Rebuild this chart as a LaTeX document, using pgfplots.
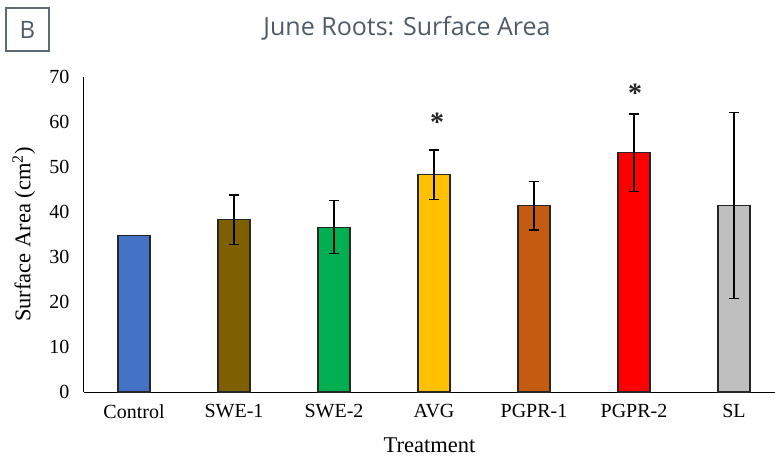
\documentclass[border=0pt]{standalone}
\usepackage{fontspec}
\setmainfont{Liberation Serif}
\newfontfamily\titlefont{Open Sans}
\usepackage{pgfplots}
\pgfplotsset{compat=1.18}
\definecolor{cControl}{HTML}{4472C4}
\definecolor{cSWEa}{HTML}{7F6000}
\definecolor{cSWEb}{HTML}{00B050}
\definecolor{cAVG}{HTML}{FFC000}
\definecolor{cPGPRa}{HTML}{C55A11}
\definecolor{cPGPRb}{HTML}{FF0000}
\definecolor{cSL}{HTML}{BFBFBF}
\definecolor{titlegray}{HTML}{4F5B66}
\definecolor{boxgray}{HTML}{5F6B73}
\definecolor{edge}{HTML}{262626}
\begin{document}
\begin{tikzpicture}
\path[use as bounding box] (-84bp,-65bp) rectangle (691bp,392bp);
\begin{axis}[
  at={(0,0)}, anchor=south west,
  scale only axis,
  width=691bp, height=315bp,
  xmin=-0.5, xmax=6.41,
  ymin=0, ymax=70,
  ytick={0,10,...,70},
  xtick={0,1,2,3,4,5,6},
  xticklabels={Control,SWE-1,SWE-2,AVG,PGPR-1,PGPR-2,SL},
  axis lines=left,
  axis line style={-, black, line width=1bp},
  major tick length=0pt,
  /pgf/number format/assume math mode=true,
  ticklabel style={font=\fontsize{20bp}{24bp}\selectfont},
  yticklabel style={xshift=-11bp},
  xticklabel style={yshift=-9bp},
  xlabel={Treatment},
  ylabel={Surface Area (cm\textsuperscript{2})},
  label style={font=\fontsize{22.5bp}{26bp}\selectfont},
  xlabel style={at={(axis description cs:0.5,-0.146)}, anchor=north, inner sep=0pt},
  ylabel style={at={(axis description cs:-0.087,0.5)}, anchor=center, inner sep=0pt},
  ybar, bar width=32bp, bar shift=0pt,
  clip=false,
  every axis plot/.append style={draw=edge, line width=1.2bp},
  error bars/y dir=both, error bars/y explicit,
  error bars/error mark options={rotate=90, mark size=5.3bp, line width=1.2bp, black},
  error bars/error bar style={line width=1.2bp, black},
]
\addplot[fill=cControl, error bars/y dir=none] coordinates {(0,34.7)};
\addplot[fill=cSWEa] coordinates {(1,38.3) +- (0,5.5)};
\addplot[fill=cSWEb] coordinates {(2,36.6) +- (0,5.9)};
\addplot[fill=cAVG] coordinates {(3,48.3) +- (0,5.5)};
\addplot[fill=cPGPRa] coordinates {(4,41.4) +- (0,5.4)};
\addplot[fill=cPGPRb] coordinates {(5,53.2) +- (0,8.6)};
\addplot[fill=cSL] coordinates {(6,41.4) +- (0,20.7)};
\node[font=\fontsize{28bp}{30bp}\selectfont\bfseries, text=black!85, inner sep=0pt] at (axis cs:3.03,60.0) {*};
\node[font=\fontsize{28bp}{30bp}\selectfont\bfseries, text=black!85, inner sep=0pt] at (axis cs:5.01,66.4) {*};
\end{axis}
\node[font=\titlefont\fontsize{25bp}{30bp}\selectfont, text=titlegray] at (323bp,364bp) {June Roots: Surface Area};
\node[draw=boxgray, line width=1.3bp, minimum width=43bp, minimum height=43bp, inner sep=0pt,
      font=\titlefont\fontsize{24bp}{28bp}\selectfont, text=titlegray] at (-56.5bp,362.5bp) {B};
\end{tikzpicture}
\end{document}
